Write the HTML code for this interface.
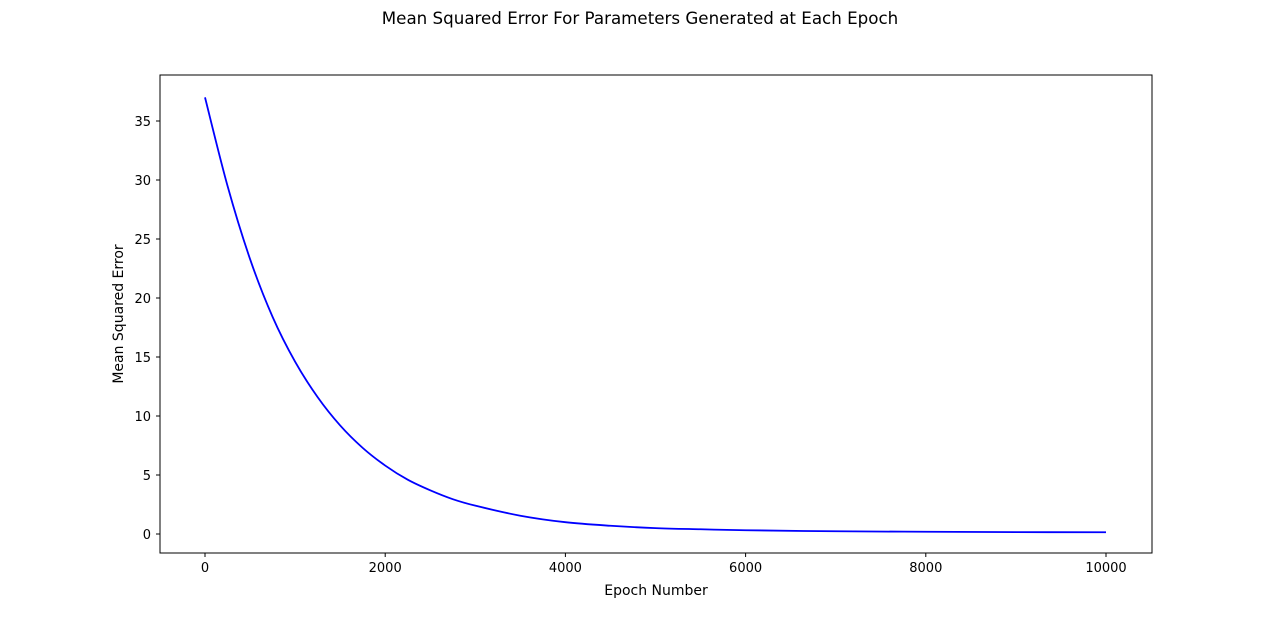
<!DOCTYPE html>
<html>
<head>
<meta charset="utf-8">
<style>
  html,body{margin:0;padding:0;background:#fff;}
  body{width:1280px;height:623px;overflow:hidden;font-family:"Liberation Sans","DejaVu Sans",sans-serif;}
  svg text{font-family:"DejaVu Sans","Liberation Sans",sans-serif;}
</style>
</head>
<body>
<svg id="chart" width="1280" height="623" xmlns="http://www.w3.org/2000/svg">
  <text x="640" y="24" text-anchor="middle" font-size="16.7" fill="#000">Mean Squared Error For Parameters Generated at Each Epoch</text>
  <rect x="160" y="75" width="992" height="478" fill="#fff" stroke="#000" stroke-width="1"/>
  <g id="xticks"></g>
  <g id="yticks"></g>
  <text x="656" y="595" text-anchor="middle" font-size="14">Epoch Number</text>
  <text x="123" y="314" text-anchor="middle" font-size="14" transform="rotate(-90 123 314)">Mean Squared Error</text>
  <path id="line" fill="none" stroke="#0000ff" stroke-width="1.8"/>
</svg>
<script>
const epochs = [0,250,500,750,1000,1250,1500,1750,2000,2250,2500,2750,3000,3500,4000,4500,5000,5500,6000,7000,8000,9000,10000];
const mse = [37,29.5,23.3,18.4,14.6,11.6,9.2,7.3,5.8,4.6,3.7,2.95,2.4,1.55,1.0,0.7,0.5,0.4,0.32,0.23,0.19,0.16,0.15];
const xTicks = [0,2000,4000,6000,8000,10000];
const yTicks = [0,5,10,15,20,25,30,35];

const NS="http://www.w3.org/2000/svg";
function xs(v){return 205+(v-0)*(1106-205)/10000;}
function ys(v){return 534-v*(534-121)/35;}

const xg=document.getElementById('xticks');
xTicks.forEach(t=>{
  const l=document.createElementNS(NS,'line');
  l.setAttribute('x1',xs(t));l.setAttribute('x2',xs(t));l.setAttribute('y1',553);l.setAttribute('y2',557);l.setAttribute('stroke','#000');
  
  
  xg.appendChild(l);
  const tx=document.createElementNS(NS,'text');
  tx.setAttribute('x',xs(t));tx.setAttribute('y',572);tx.setAttribute('text-anchor','middle');tx.setAttribute('font-size','13');
  tx.textContent=t;
  
  
  xg.appendChild(tx);
});
const yg=document.getElementById('yticks');
yTicks.forEach(t=>{
  const l=document.createElementNS(NS,'line');
  l.setAttribute('x1',156);l.setAttribute('x2',160);l.setAttribute('y1',ys(t));l.setAttribute('y2',ys(t));l.setAttribute('stroke','#000');
  
  
  yg.appendChild(l);
  const tx=document.createElementNS(NS,'text');
  tx.setAttribute('x',151);tx.setAttribute('y',ys(t)+5);tx.setAttribute('text-anchor','end');tx.setAttribute('font-size','13');
  tx.textContent=t;
  
  
  yg.appendChild(tx);
});
const pts=epochs.map((e,i)=>[xs(e),ys(mse[i])]);
let d='M'+pts[0][0]+','+pts[0][1];
for(let i=0;i<pts.length-1;i++){
  const p0=pts[i-1]||pts[i],p1=pts[i],p2=pts[i+1],p3=pts[i+2]||p2;
  const c1=[p1[0]+(p2[0]-p0[0])/6,p1[1]+(p2[1]-p0[1])/6];
  const c2=[p2[0]-(p3[0]-p1[0])/6,p2[1]-(p3[1]-p1[1])/6];
  d+=' C'+c1[0]+','+c1[1]+' '+c2[0]+','+c2[1]+' '+p2[0]+','+p2[1];
}
document.getElementById('line').setAttribute('d',d);
</script>
</body>
</html>
